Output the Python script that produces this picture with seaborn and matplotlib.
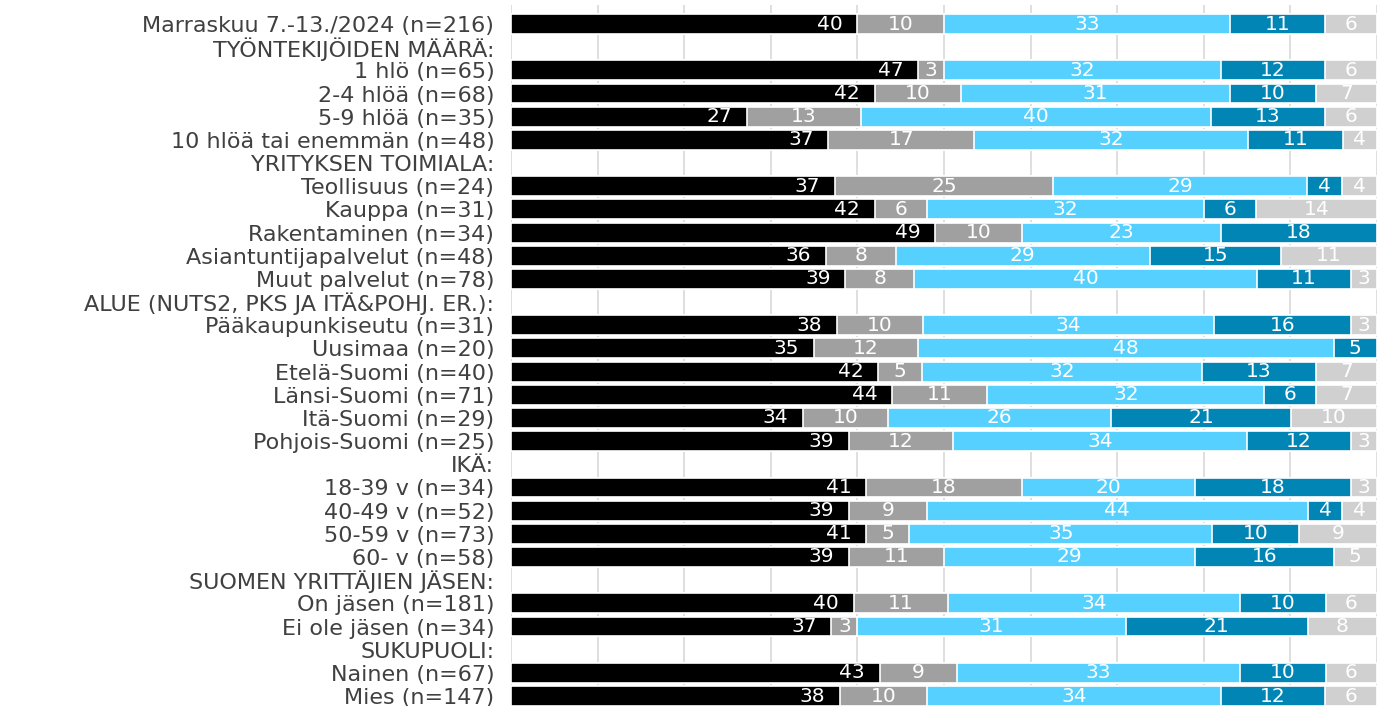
import numpy as np
import pandas as pd
import matplotlib.pyplot as plt
import seaborn as sns

# Row labels (header rows have no bars)
labels = [
    "Marraskuu 7.-13./2024 (n=216)",
    "TYÖNTEKIJÖIDEN MÄÄRÄ:",
    "1 hlö (n=65)",
    "2-4 hlöä (n=68)",
    "5-9 hlöä (n=35)",
    "10 hlöä tai enemmän (n=48)",
    "YRITYKSEN TOIMIALA:",
    "Teollisuus (n=24)",
    "Kauppa (n=31)",
    "Rakentaminen (n=34)",
    "Asiantuntijapalvelut (n=48)",
    "Muut palvelut (n=78)",
    "ALUE (NUTS2, PKS JA ITÄ&POHJ. ER.):",
    "Pääkaupunkiseutu (n=31)",
    "Uusimaa (n=20)",
    "Etelä-Suomi (n=40)",
    "Länsi-Suomi (n=71)",
    "Itä-Suomi (n=29)",
    "Pohjois-Suomi (n=25)",
    "IKÄ:",
    "18-39 v (n=34)",
    "40-49 v (n=52)",
    "50-59 v (n=73)",
    "60- v (n=58)",
    "SUOMEN YRITTÄJIEN JÄSEN:",
    "On jäsen (n=181)",
    "Ei ole jäsen (n=34)",
    "SUKUPUOLI:",
    "Nainen (n=67)",
    "Mies (n=147)",
]

# Five answer shares per row, None = header row
seg1 = [40, None, 47, 42, 27, 37, None, 37, 42, 49, 36, 39, None, 38, 35, 42, 44, 34, 39, None, 41, 39, 41, 39, None, 40, 37, None, 43, 38]
seg2 = [10, None, 3, 10, 13, 17, None, 25, 6, 10, 8, 8, None, 10, 12, 5, 11, 10, 12, None, 18, 9, 5, 11, None, 11, 3, None, 9, 10]
seg3 = [33, None, 32, 31, 40, 32, None, 29, 32, 23, 29, 40, None, 34, 48, 32, 32, 26, 34, None, 20, 44, 35, 29, None, 34, 31, None, 33, 34]
seg4 = [11, None, 12, 10, 13, 11, None, 4, 6, 18, 15, 11, None, 16, 5, 13, 6, 21, 12, None, 18, 4, 10, 16, None, 10, 21, None, 10, 12]
seg5 = [6, None, 6, 7, 6, 4, None, 4, 14, 0, 11, 3, None, 3, 0, 7, 7, 10, 3, None, 3, 4, 9, 5, None, 6, 8, None, 6, 6]

colors = ["#000000", "#a0a0a0", "#55d0ff", "#0085b5", "#d0d0d0"]

rows = [i for i, v in enumerate(seg1) if v is not None]
vals = np.array([[seg1[i], seg2[i], seg3[i], seg4[i], seg5[i]] for i in rows], dtype=float)
cum = np.cumsum(vals, axis=1) / vals.sum(axis=1, keepdims=True) * 100

df = pd.DataFrame(cum, columns=["c1", "c2", "c3", "c4", "c5"])
df["label"] = [labels[i] for i in rows]

fig = plt.figure(figsize=(13.77, 7.06), dpi=100)
ax = fig.add_axes([511 / 1377, 0, 866 / 1377, 701 / 706])

ax.set_xticks(np.arange(0, 101, 10))
ax.grid(axis="x", color="#d9d9d9", linewidth=1.2, zorder=0)
ax.set_axisbelow(True)

# stacked bars: draw the cumulative totals from the longest to the shortest
for k in range(4, -1, -1):
    sns.barplot(data=df, x="c%d" % (k + 1), y="label", order=labels, color=colors[k],
                width=0.86, edgecolor="white", linewidth=1.2, saturation=1,
                errorbar=None, ax=ax, zorder=2)

# value labels
for r, i in enumerate(rows):
    starts = np.concatenate([[0], cum[r][:-1]])
    for k in range(5):
        v = vals[r][k]
        if v == 0:
            continue
        if k == 0:
            ax.text(cum[r][k] - 1.7, i, "%d" % v, ha="right", va="center",
                    color="white", fontsize=14.5, zorder=3)
        else:
            ax.text((starts[k] + cum[r][k]) / 2, i, "%d" % v, ha="center", va="center",
                    color="white", fontsize=14.5, zorder=3)

ax.set_xlim(0, 100)
ax.set_ylim(29.43, -0.82)
ax.set_xlabel("")
ax.set_ylabel("")
ax.set_xticklabels([])
ax.tick_params(axis="x", length=0)
ax.tick_params(axis="y", length=0, pad=12, labelsize=16, labelcolor="#404040")
for s in ax.spines.values():
    s.set_visible(False)

plt.savefig("out.png", dpi=100)
